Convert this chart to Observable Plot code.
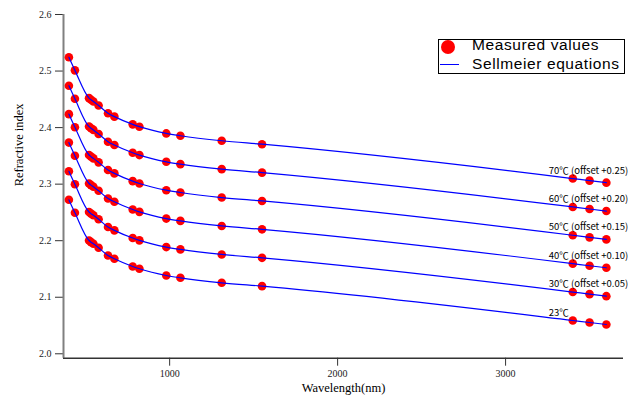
<!DOCTYPE html>
<html>
<head>
<meta charset="utf-8">
<script src="https://cdn.jsdelivr.net/npm/d3@7"></script>
<script src="https://cdn.jsdelivr.net/npm/@observablehq/plot@0.6"></script>
<style>
  html, body { margin: 0; padding: 0; background: #fff; }
  #wrap { position: relative; width: 638px; height: 401px; }
  #legend { position: absolute; left: 438px; top: 39px; width: 185px; height: 33px;
    border: 1px solid #000; background: #fff; font-family: "Liberation Sans", Arial, sans-serif; font-size: 15.5px; letter-spacing: 0.6px; color: #000; }
  #legend .dot { position: absolute; left: 2px; width: 14px; height: 14px; border-radius: 50%; background: #ff0000; }
  #legend .ln { position: absolute; left: 1px; width: 19px; height: 0; border-top: 1.5px solid #0000ff; }
  #legend .txt { position: absolute; left: 33px; white-space: nowrap; line-height: 16px; height: 16px; }
</style>
</head>
<body>
<div id="wrap">
  <div id="chart"></div>
  <div id="legend">
    <div class="dot" style="top:0px"></div>
    <div class="txt" style="top:-3px">Measured values</div>
    <div class="ln" style="top:24px"></div>
    <div class="txt" style="top:16px">Sellmeier equations</div>
  </div>
</div>
<script>
// Wavelengths of measured points (nm)
const wavelengths = [400, 436, 520, 532, 546, 577, 633, 671, 780, 820, 980, 1064, 1310, 1550, 3400, 3500, 3600];
// Series names and annotation labels
const seriesNames = ["23℃", "30℃", "40℃", "50℃", "60℃", "70℃"];
const seriesLabels = ["23℃", "30℃ (offset +0.05)", "40℃ (offset +0.10)", "50℃ (offset +0.15)", "60℃ (offset +0.20)", "70℃ (offset +0.25)"];
// Refractive index values (with offsets as plotted)
const n23 = [2.2723, 2.2493, 2.2003, 2.1974, 2.1945, 2.1874, 2.1738, 2.1680, 2.1544, 2.1503, 2.1385, 2.1344, 2.1255, 2.1196, 2.0589, 2.0553, 2.0518];
const n30 = [2.3228, 2.2997, 2.2507, 2.2478, 2.2449, 2.2378, 2.2242, 2.2183, 2.2047, 2.2006, 2.1887, 2.1846, 2.1757, 2.1697, 2.1092, 2.1055, 2.1019];
const n40 = [2.3735, 2.3503, 2.3012, 2.2983, 2.2954, 2.2883, 2.2746, 2.2688, 2.2551, 2.2510, 2.2391, 2.2350, 2.2261, 2.2201, 2.1594, 2.1557, 2.1521];
const n50 = [2.4238, 2.4006, 2.3515, 2.3486, 2.3456, 2.3385, 2.3249, 2.3190, 2.3053, 2.3012, 2.2893, 2.2852, 2.2763, 2.2703, 2.2096, 2.2059, 2.2023];
const n60 = [2.4741, 2.4509, 2.4018, 2.3989, 2.3959, 2.3888, 2.3751, 2.3692, 2.3555, 2.3514, 2.3395, 2.3354, 2.3265, 2.3204, 2.2597, 2.2560, 2.2524];
const n70 = [2.5245, 2.5012, 2.4521, 2.4491, 2.4462, 2.4390, 2.4253, 2.4194, 2.4057, 2.4016, 2.3897, 2.3856, 2.3767, 2.3706, 2.3099, 2.3062, 2.3026];
// Axis ticks
const xTicks = [1000, 2000, 3000];
const yTicks = [2.0, 2.1, 2.2, 2.3, 2.4, 2.5, 2.6];
const xDomain = [368, 3702];
const yDomain = [1.9922, 2.6];
// Wavelength at which annotation labels are anchored
const labelWavelength = 3400;

const allSeries = [n23, n30, n40, n50, n60, n70];
const data = [];
allSeries.forEach((arr, i) => arr.forEach((n, j) => data.push({t: seriesNames[i], w: wavelengths[j], n})));
const labels = allSeries.map((arr, i) => ({w: labelWavelength, n: arr[wavelengths.indexOf(labelWavelength)], label: seriesLabels[i]}));

const chart = Plot.plot({
  width: 638,
  height: 401,
  marginLeft: 63,
  marginRight: 15,
  marginTop: 14,
  marginBottom: 43.3,
  x: {domain: xDomain},
  y: {domain: yDomain},
  style: {fontFamily: "'Liberation Serif', serif", fontSize: "10px", color: "#222", background: "#fff"},
  marks: [
    Plot.axisY({ticks: yTicks, tickSize: 8, tickPadding: 4, tickFormat: d => d.toFixed(1), label: null, stroke: "#333"}),
    Plot.axisX({ticks: xTicks, tickSize: 8, tickPadding: 4, tickFormat: d => String(d), label: null, stroke: "#333"}),
    Plot.ruleX([xDomain[0]], {stroke: "#808080", strokeWidth: 2}),
    Plot.ruleY([yDomain[0]], {stroke: "#333", strokeWidth: 1.5}),
    Plot.dot(data, {x: "w", y: "n", r: 4.3, fill: "#ff0000", stroke: "none"}),
    Plot.line(data, {x: "w", y: "n", z: "t", stroke: "#0000ff", strokeWidth: 1.2, curve: "monotone-x"}),
    Plot.text(labels, {x: "w", y: "n", text: "label", textAnchor: "start", dx: -24, dy: -8,
      fontFamily: "'Noto Sans CJK JP', sans-serif", fontSize: 9.5, fill: "#000"}),
    Plot.text(["Wavelength(nm)"], {frameAnchor: "bottom", dy: 34, fontSize: 12.5, fill: "#000"}),
    Plot.text(["Refractive index"], {frameAnchor: "left", dx: -45, rotate: -90, fontSize: 12.5, fill: "#000"})
  ]
});
document.getElementById("chart").appendChild(chart);
</script>
</body>
</html>
